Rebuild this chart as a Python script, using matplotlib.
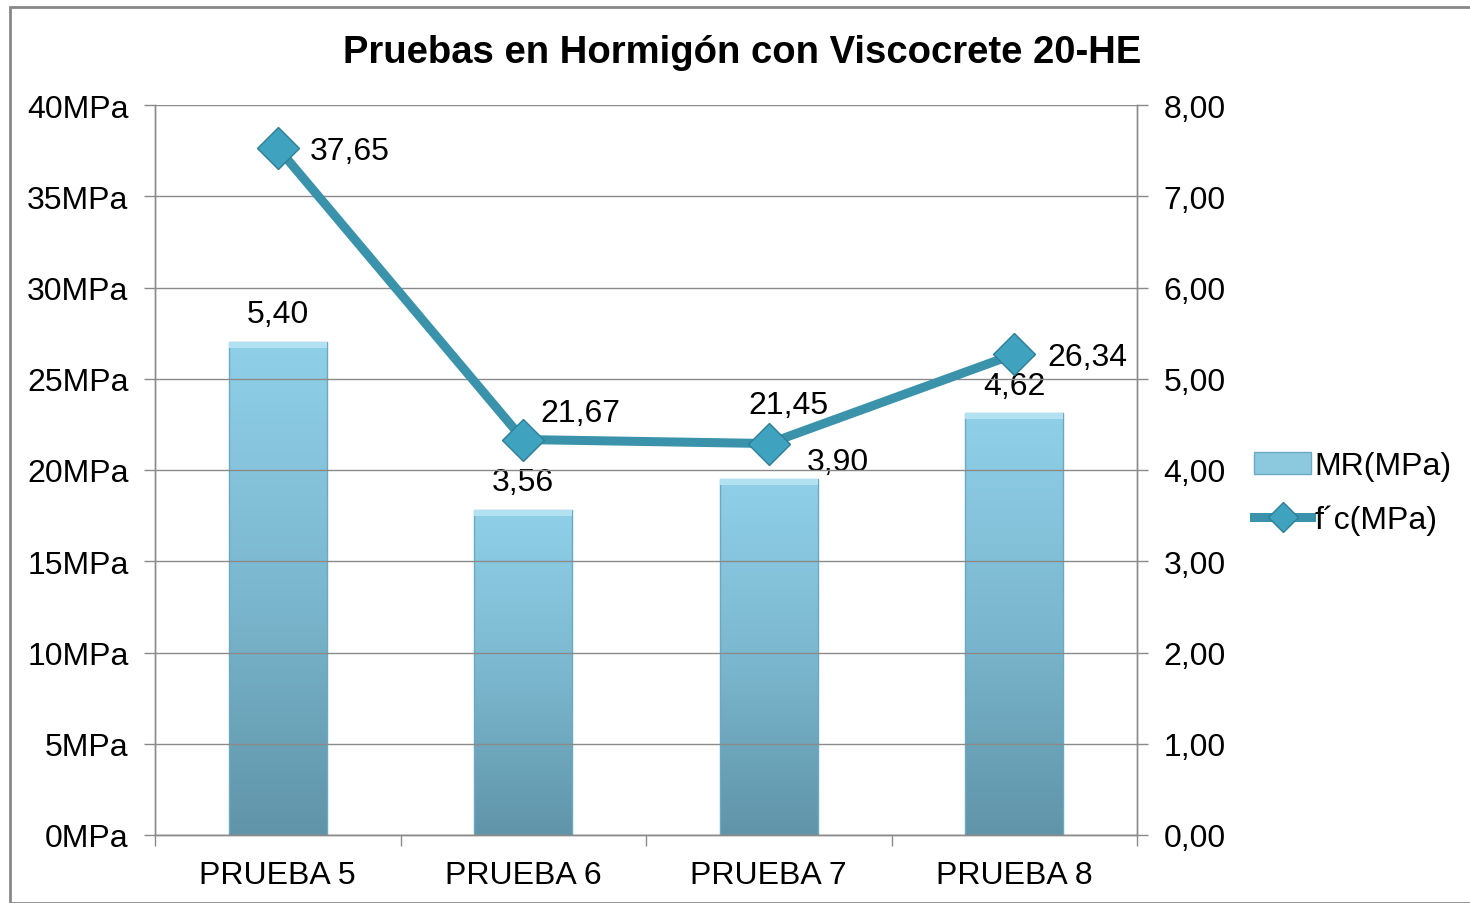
import matplotlib
matplotlib.use("Agg")
import matplotlib.pyplot as plt
import numpy as np
from matplotlib.colors import LinearSegmentedColormap
from matplotlib.lines import Line2D
from matplotlib.patches import Rectangle

plt.rcParams['font.family'] = ['Liberation Sans', 'DejaVu Sans']

categories = ["PRUEBA 5", "PRUEBA 6", "PRUEBA 7", "PRUEBA 8"]
mr_values = [5.40, 3.56, 3.90, 4.62]
fc_values = [37.65, 21.67, 21.45, 26.34]
left_ticks = [0, 5, 10, 15, 20, 25, 30, 35, 40]
right_ticks = [0, 1, 2, 3, 4, 5, 6, 7, 8]

fig = plt.figure(figsize=(14.7, 9.04), dpi=100)
fig.patches.append(Rectangle((10/1470, 0), 1.0, 1 - 8/904, transform=fig.transFigure,
                             fill=False, edgecolor='#888888', linewidth=2.0, zorder=0))

ax = fig.add_axes([155/1470, 68/904, 982/1470, 730/904])
ax2 = ax.twinx()

ax.set_ylim(0, 40)
ax2.set_ylim(0, 8)
ax.set_xlim(-0.5, 3.5)

x = np.arange(len(categories))
gcol = '#8a8a8a'
for t in left_ticks:
    ax.axhline(t, color=gcol, linewidth=1.0, zorder=0)

cmap = LinearSegmentedColormap.from_list('bar', ['#6094a9', '#7bb8cf', '#8fd0e8'])
grad = np.linspace(0, 1, 256).reshape(-1, 1)
bars = ax2.bar(x, mr_values, width=0.4, color='none', edgecolor='#6aa9bf', linewidth=1.0, zorder=2)
for b in bars:
    x0, w, h = b.get_x(), b.get_width(), b.get_height()
    im = ax2.imshow(grad, extent=[x0, x0 + w, 0, h], origin='lower', cmap=cmap,
                    aspect='auto', zorder=1)
    im.set_clip_path(b)
    ax2.add_patch(Rectangle((x0, h - 0.06), w, 0.06, facecolor='#b2e1f1', edgecolor='none', zorder=2))
ax2.set_xlim(-0.5, 3.5)

line_color = '#3a93ab'
ax.set_zorder(ax2.get_zorder() + 1)
ax.patch.set_visible(False)
ax.plot(x, fc_values, color=line_color, linewidth=6.5, marker='D', markersize=21,
        markerfacecolor='#3fa3c0', markeredgecolor='#2e7f96', markeredgewidth=1.0, zorder=5)

fs = 23
fc_offsets = [(52, -2), (41, 19), (14, 28), (53, -2)]
for i, v in enumerate(fc_values):
    ax.annotate(f"{v:.2f}".replace('.', ','), (x[i], v), xytext=fc_offsets[i], textcoords='offset points',
                ha='center', va='center', fontsize=fs, zorder=6)
mr_offsets = [(0, 20), (0, 20), (50, 12), (0, 20)]
for i, v in enumerate(mr_values):
    ax2.annotate(f"{v:.2f}".replace('.', ','), (x[i], v), xytext=mr_offsets[i], textcoords='offset points',
                 ha='center', va='center', fontsize=fs, zorder=6)

ax.set_yticks(left_ticks)
ax.set_yticklabels([f"{t}MPa" for t in left_ticks], fontsize=fs)
ax2.set_yticks(right_ticks)
ax2.set_yticklabels([f"{t:.2f}".replace('.', ',') for t in right_ticks], fontsize=fs)

ax.set_xticks(x)
ax.set_xticklabels(categories, fontsize=fs)
ax.tick_params(axis='x', length=0, pad=18)
ax.set_xticks(np.arange(-0.5, 4.0, 1.0), minor=True)
ax.tick_params(axis='x', which='minor', length=8, color=gcol, width=1.0)
ax.tick_params(axis='y', length=8, color=gcol, width=1.0, pad=11)
ax2.tick_params(axis='y', length=8, color=gcol, width=1.0, pad=11)
ax2.tick_params(axis='x', length=0)

for a in (ax, ax2):
    a.spines['top'].set_visible(False)
    for s in ['left', 'right', 'bottom']:
        a.spines[s].set_color(gcol)
        a.spines[s].set_linewidth(1.0)

fig.text(742/1470, 1 - 53/904, "Pruebas en Hormigón con Viscocrete 20-HE", ha='center', va='center',
         fontsize=27.5, fontweight='bold')

handles = [Rectangle((0, 0), 1, 1, facecolor='#8cc9df', edgecolor='#6aa9bf'),
           Line2D([0], [0], color=line_color, linewidth=6.5, marker='D', markersize=15,
                  markerfacecolor='#3fa3c0', markeredgecolor='#2e7f96')]
fig.legend(handles, ["MR(MPa)", "f´c(MPa)"], loc='center left', bbox_to_anchor=(1225/1470, 1 - 494/904),
           frameon=False, fontsize=fs, handlelength=1.8, handletextpad=0.1, labelspacing=0.72)

fig.savefig("out.png", dpi=100)
